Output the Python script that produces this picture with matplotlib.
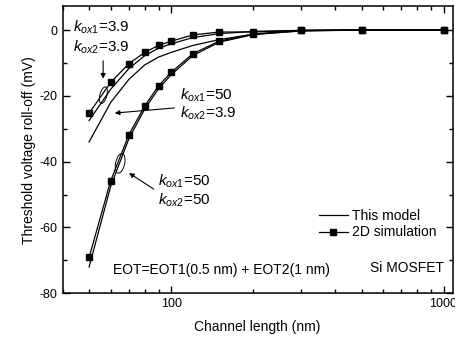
import numpy as np
import matplotlib
matplotlib.use('Agg')
import matplotlib.pyplot as plt
from matplotlib.patches import Ellipse
from matplotlib.transforms import ScaledTranslation
from matplotlib.lines import Line2D
from matplotlib.ticker import FixedLocator, NullFormatter, MultipleLocator

plt.rcParams['font.family'] = ['Liberation Sans', 'DejaVu Sans']
plt.rcParams['mathtext.fontset'] = 'custom'
plt.rcParams['mathtext.rm'] = 'Liberation Sans'
plt.rcParams['mathtext.it'] = 'Liberation Sans:italic'
plt.rcParams['axes.unicode_minus'] = False

# channel length (nm)
L = [50, 60, 70, 80, 90, 100, 120, 150, 200, 300, 500, 1000]

# 2D simulation
sim_39_39 = [-25.3, -15.9, -10.2, -6.8, -4.65, -3.4, -1.5, -0.6, -0.6, -0.1, 0, 0]
sim_50_50 = [-69.1, -45.8, -31.8, -23.1, -16.9, -12.9, -7.2, -3.4, -1.2, -0.1, 0, 0]

# this model
mod_39_39 = [-27.5, -18.0, -11.7, -7.8, -5.5, -4.2, -2.3, -1.1, -0.4, -0.1, 0, 0]
mod_50_39 = [-34.0, -22.0, -15.0, -10.6, -8.2, -6.8, -4.7, -2.9, -1.3, -0.3, 0, 0]
mod_50_50 = [-72.0, -47.5, -33.0, -24.0, -17.8, -13.6, -7.8, -3.7, -1.4, -0.2, 0, 0]

fig = plt.figure(figsize=(4.55, 3.38), dpi=100)
ax = fig.add_axes([0.1378, 0.1322, 0.857, 0.85])

lw = 0.9
ax.plot(L, mod_39_39, color='black', lw=lw)
ax.plot(L, mod_50_39, color='black', lw=lw)
ax.plot(L, mod_50_50, color='black', lw=lw)
ax.plot(L, sim_39_39, color='black', lw=lw, marker='s', ms=4.3)
ax.plot(L, sim_50_50, color='black', lw=lw, marker='s', ms=4.3)

ax.set_xscale('log')
ax.set_xlim(40, 1080)
ax.set_ylim(-80, 7.3)
ax.xaxis.set_major_locator(FixedLocator([100, 1000]))
ax.xaxis.set_minor_locator(FixedLocator([40, 50, 60, 70, 80, 90, 200, 300, 400, 500, 600, 700, 800, 900]))
ax.xaxis.set_minor_formatter(NullFormatter())
ax.set_xticklabels(['100', '1000'])
ax.yaxis.set_major_locator(MultipleLocator(20))
ax.yaxis.set_minor_locator(MultipleLocator(10))
ax.tick_params(which='both', direction='in', top=True, right=True, labelsize=9, width=1)
ax.tick_params(which='major', length=5)
ax.tick_params(which='minor', length=3)
for s in ax.spines.values():
    s.set_linewidth(1.1)

ax.set_xlabel('Channel length (nm)', fontsize=10, labelpad=7)
ax.set_ylabel('Threshold voltage roll-off (mV)', fontsize=10, labelpad=3)

fs = 11
ax.text(43.7, 0.9, r'$k_{ox1}$=3.9', fontsize=fs, va='center')
ax.text(43.7, -5.2, r'$k_{ox2}$=3.9', fontsize=fs, va='center')
ax.annotate('', xy=(56.3, -15.6), xytext=(56.3, -8.5),
            arrowprops=dict(arrowstyle='-|>', lw=0.8, color='black', mutation_scale=7))

ax.text(107.9, -19.8, r'$k_{ox1}$=50', fontsize=fs, va='center')
ax.text(107.9, -25.2, r'$k_{ox2}$=3.9', fontsize=fs, va='center')
ax.annotate('', xy=(60.7, -25.3), xytext=(105.2, -23.6),
            arrowprops=dict(arrowstyle='-|>', lw=0.8, color='black', mutation_scale=7))

ax.text(89.6, -46.1, r'$k_{ox1}$=50', fontsize=fs, va='center')
ax.text(89.6, -51.7, r'$k_{ox2}$=50', fontsize=fs, va='center')
ax.annotate('', xy=(68.7, -43.0), xytext=(88.1, -48.8),
            arrowprops=dict(arrowstyle='-|>', lw=0.8, color='black', mutation_scale=7))

for cx, cy, w, h, ang in [(56.4, -19.8, 7, 17, -15), (65.0, -40.5, 9, 20, -12)]:
    e = Ellipse((0, 0), w / 100, h / 100, angle=ang, fill=False, lw=0.7, color='black',
                transform=fig.dpi_scale_trans + ScaledTranslation(cx, cy, ax.transData))
    ax.add_patch(e)

ax.text(61.2, -73, 'EOT=EOT1(0.5 nm) + EOT2(1 nm)', fontsize=10, va='center')
ax.text(538, -72.3, 'Si MOSFET', fontsize=10, va='center')

handles = [Line2D([], [], color='black', lw=lw),
           Line2D([], [], color='black', lw=lw, marker='s', ms=4.3)]
ax.legend(handles, ['This model', '2D simulation'], loc='upper left',
          bbox_to_anchor=(0.625, 0.338), frameon=False, fontsize=10,
          handlelength=2.1, handletextpad=0.25, labelspacing=0.2)

fig.savefig('out.png', dpi=100)
